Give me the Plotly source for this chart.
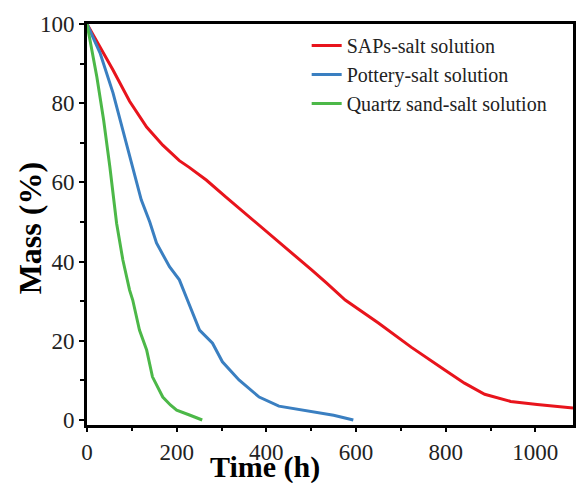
import plotly.graph_objects as go

# Data
saps_t = [0, 30, 58, 95, 133, 169, 206, 228, 266, 310, 339, 390, 443, 501, 534, 576, 650, 723, 798, 842, 887, 945, 1004, 1050, 1084]
saps_m = [100, 94, 88.4, 80.5, 74, 69.4, 65.5, 63.8, 60.6, 56.3, 53.5, 48.7, 43.7, 37.9, 34.6, 30.3, 24.5, 18.4, 12.6, 9.3, 6.5, 4.7, 3.9, 3.4, 3.0]

pot_t = [0, 29, 58, 80, 102, 121, 140, 155, 184, 206, 224, 251, 280, 302, 339, 384, 428, 472, 517, 550, 594]
pot_m = [100, 92.7, 82.6, 73.2, 63.9, 55.6, 50.0, 44.7, 38.7, 35.4, 30.3, 22.7, 19.4, 14.7, 10.1, 5.8, 3.5, 2.6, 1.8, 1.2, 0]

qtz_t = [0, 22, 37, 51, 66, 80, 95, 102, 117, 133, 146, 169, 186, 200, 230, 257]
qtz_m = [100, 86.6, 75.8, 63.9, 49.7, 40.4, 32.8, 30.3, 22.7, 17.7, 10.9, 5.8, 3.8, 2.5, 1.2, 0]

names = ["SAPs-salt solution", "Pottery-salt solution", "Quartz sand-salt solution"]
colors = ["#e8141c", "#3a7fc1", "#4cb848"]

x_ticks = [0, 200, 400, 600, 800, 1000]
y_ticks = [0, 20, 40, 60, 80, 100]

FONT = "Liberation Serif, Times New Roman, serif"

fig = go.Figure()
for t, m, n, c in zip([saps_t, pot_t, qtz_t], [saps_m, pot_m, qtz_m], names, colors):
    fig.add_trace(go.Scatter(x=t, y=m, mode="lines", name=n,
                             line=dict(color=c, width=3)))

fig.update_layout(
    width=576, height=483,
    margin=dict(l=87, r=0, t=24, b=58),
    paper_bgcolor="white", plot_bgcolor="white",
    font=dict(family=FONT, color="#222"),
    showlegend=True,
    legend=dict(x=0.452, y=0.995, xanchor="left", yanchor="top",
                font=dict(family=FONT, size=20, color="#222"),
                bgcolor="rgba(0,0,0,0)", tracegroupgap=0),
)

fig.update_xaxes(range=[0, 1084], showgrid=False, zeroline=False,
                 showline=True, linecolor="black", linewidth=3, mirror=True,
                 tickmode="array", tickvals=x_ticks, ticks="outside", ticklen=4, tickwidth=2,
                 tickcolor="black",
                 minor=dict(dtick=100, tick0=0, ticks="outside", ticklen=3, tickwidth=2, tickcolor="black"),
                 tickfont=dict(family=FONT, size=23, color="#222"))
fig.update_yaxes(range=[-1.26, 100], showgrid=False, zeroline=False,
                 showline=True, linecolor="black", linewidth=3, mirror=True,
                 tickmode="array", tickvals=y_ticks, ticks="outside", ticklen=5, tickwidth=2,
                 tickcolor="black",
                 minor=dict(dtick=10, tick0=0, ticks="outside", ticklen=4, tickwidth=2, tickcolor="black"),
                 tickfont=dict(family=FONT, size=23, color="#222"))

fig.add_annotation(text="<b>Time (h)</b>", xref="paper", yref="paper",
                   x=(266 - 87) / 489, y=-(467 - 425) / 401, xanchor="center", yanchor="middle",
                   showarrow=False, font=dict(family=FONT, size=30, color="black"))
fig.add_annotation(text="<b>Mass (%)</b>", xref="paper", yref="paper",
                   x=-(87 - 30) / 489, y=1 - (228 - 24) / 401, xanchor="center", yanchor="middle",
                   textangle=-90, showarrow=False, font=dict(family=FONT, size=32, color="black"))

fig.write_html("out.html")
